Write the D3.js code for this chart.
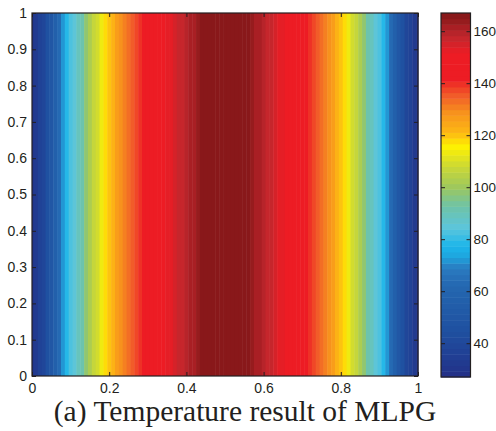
<!DOCTYPE html>
<html>
<head>
<meta charset="utf-8">
<script src="https://cdn.jsdelivr.net/npm/d3@7"></script>
<style>
  body { margin: 0; background: #fff; }
  svg { display: block; }
  .tick text { font-family: "Liberation Sans", Arial, sans-serif; font-size: 14px; fill: #231f20; }
  .cbar .tick text { font-size: 13.5px; }
  .tick line { stroke: #231f20; }
</style>
</head>
<body>
<svg width="496" height="431"></svg>
<script>
// temperature, one value per 0.01 in x (constant along y)
var temps = [
  30, 33, 36, 40, 45, 51, 57, 64, 72, 78,
  82, 85, 89, 92, 97, 103, 107, 110, 114, 117,
  120, 123, 126, 128, 131, 133, 135, 137, 139, 142,
  144, 146, 147.5, 149, 150.5, 152, 153.5, 155, 156.5, 158,
  159.5, 161, 162.5, 164, 165, 165.8, 166.3, 166.7, 167, 167,
  167,
  167, 167, 166.7, 166.3, 165.8, 165, 164, 162.5, 161, 159.5,
  158, 156.5, 155, 153.5, 152, 150.5, 149, 147.5, 146, 144,
  142, 139, 137, 135, 133, 131, 128, 126, 123, 120,
  117, 114, 110, 107, 103, 97, 92, 89, 85, 82,
  78, 72, 64, 57, 51, 45, 40, 36, 33, 30
];

var xTicks = [0, 0.2, 0.4, 0.6, 0.8, 1];
var yTicks = [0, 0.1, 0.2, 0.3, 0.4, 0.5, 0.6, 0.7, 0.8, 0.9, 1];
var cTicks = [40, 60, 80, 100, 120, 140, 160];
var cRange = [27, 167];
var nColors = 64;

// jet-like colormap as printed
var stopPos = [0, 0.05, 0.12, 0.25, 0.30, 0.33, 0.36, 0.41, 0.47, 0.52, 0.58, 0.635, 0.67, 0.725, 0.775, 0.82, 0.89, 0.935, 0.965, 0.985, 1];
var stopCol = ["#232f86", "#213d92", "#1f4f9f", "#2467b0", "#2a7bc0", "#1ea5de", "#1cb6ea", "#5cc5dc", "#6fc3a6", "#9cc75e",
  "#cdd934", "#fff200", "#fdb913", "#f7941d", "#f15a29", "#ed1c24", "#ed1c24", "#c1272d", "#a51e23", "#8b1a1a", "#861619"];

var caption = "(a) Temperature result of MLPG";

var svg = d3.select("svg");
var pL = 32, pR = 418, pT = 13, pB = 376;

var x = d3.scaleLinear().domain([0, 1]).range([pL, pR]);
var y = d3.scaleLinear().domain([0, 1]).range([pB, pT]);

var cmap = d3.scaleLinear().domain(stopPos).range(stopCol).interpolate(d3.interpolateRgb);

// quantize to 64 levels like the matlab colormap
function colorOf(v) {
  var f = (v - cRange[0]) / (cRange[1] - cRange[0]);
  var k = Math.max(0, Math.min(nColors - 1, Math.floor(f * nColors)));
  return cmap((k + 0.5) / nColors);
}

var n = temps.length - 1;
svg.append("g").selectAll("rect")
  .data(temps)
  .enter().append("rect")
  .attr("x", function (d, i) { return x(Math.max(0, (i - 0.5) / n)); })
  .attr("width", function (d, i) { return x(Math.min(1, (i + 0.5) / n)) - x(Math.max(0, (i - 0.5) / n)) + 0.5; })
  .attr("y", pT)
  .attr("height", pB - pT)
  .attr("fill", function (d) { return colorOf(d); });

var fmt = d3.format("~g");

svg.append("g").attr("transform", "translate(0," + pB + ")")
  .call(d3.axisBottom(x).tickValues(xTicks).tickFormat(fmt).tickSizeInner(-4).tickSizeOuter(0).tickPadding(7));
svg.append("g").attr("transform", "translate(0," + pT + ")")
  .call(d3.axisTop(x).tickValues(xTicks).tickFormat("").tickSizeInner(-4).tickSizeOuter(0));
svg.append("g").attr("transform", "translate(" + pL + ",0)")
  .call(d3.axisLeft(y).tickValues(yTicks).tickFormat(fmt).tickSizeInner(-4).tickSizeOuter(0).tickPadding(5));
svg.append("g").attr("transform", "translate(" + pR + ",0)")
  .call(d3.axisRight(y).tickValues(yTicks).tickFormat("").tickSizeInner(-4).tickSizeOuter(0));

svg.selectAll(".domain").remove();

svg.append("rect")
  .attr("x", pL).attr("y", pT)
  .attr("width", pR - pL).attr("height", pB - pT)
  .attr("fill", "none").attr("stroke", "#231f20").attr("stroke-width", 1.2);

// colorbar
var cbL = 441, cbR = 470.5, cbT = 13, cbB = 377;
var cy = d3.scaleLinear().domain(cRange).range([cbB, cbT]);
var levels = d3.range(nColors);
svg.append("g").selectAll("rect")
  .data(levels)
  .enter().append("rect")
  .attr("x", cbL)
  .attr("width", cbR - cbL)
  .attr("y", function (k) { return cy(cRange[0] + (k + 1) * (cRange[1] - cRange[0]) / nColors); })
  .attr("height", function (k) { return (cbB - cbT) / nColors + 0.5; })
  .attr("fill", function (k) { return cmap((k + 0.5) / nColors); });

svg.append("g").attr("class", "cbar").attr("transform", "translate(" + cbR + ",0)")
  .call(d3.axisRight(cy).tickValues(cTicks).tickSizeInner(-4).tickSizeOuter(0).tickPadding(3));
svg.append("g").attr("class", "cbar").attr("transform", "translate(" + cbL + ",0)")
  .call(d3.axisLeft(cy).tickValues(cTicks).tickFormat("").tickSizeInner(-4).tickSizeOuter(0));
svg.selectAll(".domain").remove();

svg.append("rect")
  .attr("x", cbL).attr("y", cbT)
  .attr("width", cbR - cbL).attr("height", cbB - cbT)
  .attr("fill", "none").attr("stroke", "#231f20").attr("stroke-width", 1.2);

svg.append("text")
  .attr("x", 245).attr("y", 421)
  .attr("text-anchor", "middle")
  .style("font-family", "'Liberation Serif', 'Times New Roman', serif")
  .style("font-size", "29.5px")
  .style("fill", "#231f20")
  .text(caption);
</script>
</body>
</html>
